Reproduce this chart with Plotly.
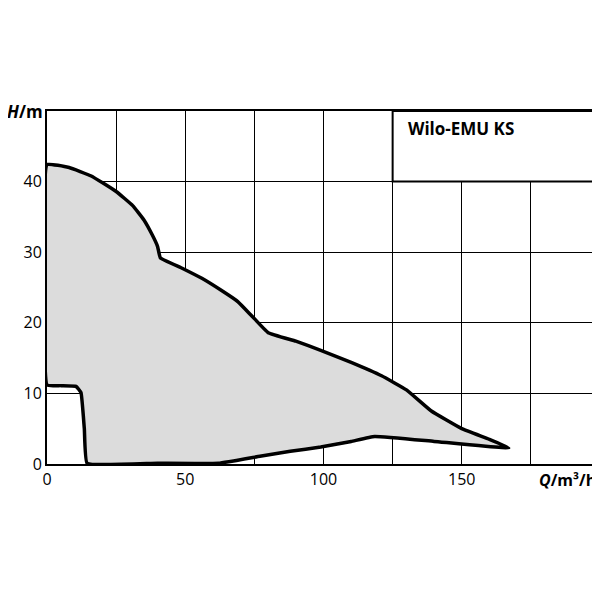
import plotly.graph_objects as go

# envelope outline, Q (m3/h) and H (m)
q_env = [0, 8, 16, 25, 31, 35, 38, 40, 41, 48.5, 56, 63, 69, 74, 80, 90, 99, 110, 121, 130, 139, 150, 160, 167,
         140, 118.5, 110, 99, 88, 77, 62, 40, 14.5, 13.5, 12.3, 10.5, 5, 0, 0]
h_env = [42.4, 42.0, 40.8, 38.6, 36.6, 34.6, 32.5, 30.8, 29.2, 27.8, 26.3, 24.6, 23.0, 21.0, 18.6, 17.4, 16.1, 14.4, 12.5, 10.5, 7.5, 5.0, 3.5, 2.3,
         3.2, 3.9, 3.2, 2.4, 1.8, 1.1, 0.1, 0.1, 0.1, 5, 10.1, 11.0, 11.1, 11.2, 42.4]

xticks = [0, 50, 100, 150]
yticks = [0, 10, 20, 30, 40]

fig = go.Figure()
fig.add_trace(go.Scatter(x=q_env, y=h_env, mode="lines", fill="toself",
                         fillcolor="#dcdcdc", line=dict(color="black", width=3.5, shape="spline", smoothing=0.3),
                         showlegend=False, hoverinfo="skip"))

# title box in upper right
fig.add_shape(type="rect", x0=125, x1=200, y0=40, y1=50, xref="x", yref="y",
              fillcolor="white", line=dict(color="black", width=2), layer="above")
fig.add_annotation(x=130, y=47.5, text="<b>Wilo-EMU KS</b>", showarrow=False,
                   xanchor="left", font=dict(size=17, color="black"))

fig.add_annotation(x=0, y=1, xref="paper", yref="paper", text="<b><i>H</i>/m</b>",
                   showarrow=False, xanchor="right", yanchor="middle", xshift=-2,
                   font=dict(size=17, color="black"))
fig.add_annotation(x=1, y=0, xref="paper", yref="paper", text="<b><i>Q</i>/m³/h</b>",
                   showarrow=False, xanchor="right", yanchor="top", yshift=-3, xshift=-2,
                   font=dict(size=16, color="black"))

fig.update_xaxes(range=[0, 200], tickvals=xticks, showgrid=True,
                 gridcolor="black", gridwidth=1, automargin=False,
                 showline=True, linecolor="black", linewidth=2, mirror=True,
                 zeroline=False, tickfont=dict(size=16, color="black"), ticks="")
fig.update_xaxes(minor=dict(dtick=25, showgrid=True, gridcolor="black", gridwidth=1))
fig.update_yaxes(range=[0, 50], tickvals=yticks, showgrid=True, gridcolor="black",
                 gridwidth=1, showline=True, linecolor="black", linewidth=2, mirror=True,
                 zeroline=False, tickfont=dict(size=16, color="black"), ticks="", automargin=False)

fig.update_layout(width=592, height=592, plot_bgcolor="white", paper_bgcolor="white",
                  margin=dict(l=39, r=0, t=103, b=136),
                  font=dict(family="Open Sans"))
fig.write_html("out.html")
